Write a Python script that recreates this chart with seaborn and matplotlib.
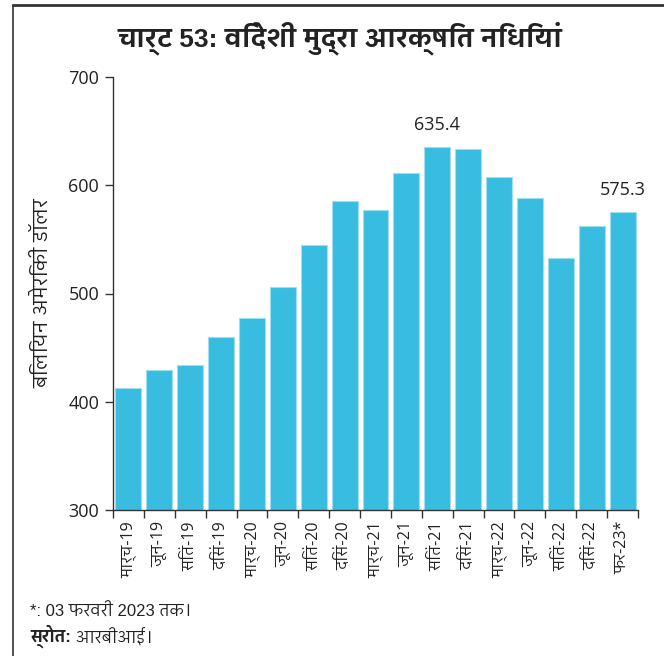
import numpy as np
import pandas as pd
import matplotlib
matplotlib.use("Agg")
import matplotlib.pyplot as plt
from matplotlib import font_manager
from matplotlib.ft2font import FT2Font
from matplotlib.lines import Line2D
import seaborn as sns

months = ["मार्च-19", "जून-19", "सितं-19", "दिसं-19", "मार्च-20", "जून-20",
          "सितं-20", "दिसं-20", "मार्च-21", "जून-21", "सितं-21", "दिसं-21",
          "मार्च-22", "जून-22", "सितं-22", "दिसं-22", "फर-23*"]
reserves = [412.9, 429.6, 433.7, 459.9, 477.8, 505.6, 544.7, 585.3, 577.0,
            611.1, 635.4, 633.6, 607.3, 588.3, 532.7, 562.8, 575.3]
labelled = ["सितं-21", "फर-23*"]
yticks = [300, 400, 500, 600, 700]

title = "चार्ट 53: विदेशी मुद्रा आरक्षित निधियां"
ylabel = "बिलियन अमेरिकी डॉलर"
note = "*: 03 फरवरी 2023 तक।"
source_head = "स्रोत:"
source_body = " आरबीआई।"

sns.set_theme(style="ticks")


def find_devanagari_family():
    """Pick an installed family that covers Devanagari, preferring a
    proportional sans face over monospaced or serif ones."""
    best, best_score = None, -1
    for f in font_manager.fontManager.ttflist:
        try:
            cmap = FT2Font(f.fname).get_charmap()
        except Exception:
            continue
        if 0x0915 not in cmap or 0x093F not in cmap:
            continue
        name = f.name
        score = 0
        if "mono" not in name.lower():
            score += 4
        if "sans" in name.lower():
            score += 2
        if "devanagari" in name.lower() or "hindi" in name.lower():
            score += 1
        if score > best_score:
            best, best_score = name, score
    return best


deva = find_devanagari_family()
tail = ([deva] if deva else []) + ["DejaVu Sans"]
text_fam = ["Liberation Sans"] + tail
num_fam = ["Open Sans"] + tail
plt.rcParams["font.family"] = text_fam

fig = plt.figure(figsize=(6.64, 6.56), dpi=100)
ax = fig.add_axes([113 / 664, 1 - 510 / 656, 525 / 664, 433 / 656])

df = pd.DataFrame({"month": months, "reserves": reserves})
sns.barplot(data=df, x="month", y="reserves", color="#38BCE0", saturation=1,
            width=0.84, edgecolor="#9FDDF0", linewidth=0.8, ax=ax)

ax.set_ylim(300, 700)
ax.set_xlim(-0.5, len(months) - 0.5)
ax.set_yticks(yticks)
ax.set_yticklabels([str(v) for v in yticks], fontsize=13, color="#222222",
                   family=num_fam)
ax.set_xticks(range(len(months)))
ax.set_xticklabels(months, rotation=90, fontsize=11.5, color="#222222",
                   family=num_fam)
ax.set_xticks(np.arange(-0.5, len(months)), minor=True)
ax.tick_params(axis="x", which="major", length=0, pad=8)
ax.tick_params(axis="x", which="minor", length=6, width=1, color="#333333")
ax.tick_params(axis="y", length=6, width=1, color="#333333", pad=4)
ax.set_xlabel("")
ax.set_ylabel(ylabel, fontsize=14.5, color="#222222", labelpad=12)
for side in ("top", "right"):
    ax.spines[side].set_visible(False)
for side in ("left", "bottom"):
    ax.spines[side].set_color("#333333")
    ax.spines[side].set_linewidth(1)

for m in labelled:
    i = months.index(m)
    ax.text(i, reserves[i] + 12, f"{reserves[i]:.1f}", ha="center", va="bottom",
            fontsize=13, color="#222222", family=num_fam)

fig.text(340 / 664, 1 - 38 / 656, title, ha="center", va="center",
         fontsize=19, fontweight="bold", color="#222222")

fig.text(30 / 664, 1 - 611 / 656, note, ha="left", va="center",
         fontsize=12, color="#222222")
t = fig.text(30 / 664, 1 - 636 / 656, source_head, ha="left", va="center",
             fontsize=12, fontweight="bold", color="#222222")
fig.canvas.draw()
bb = t.get_window_extent()
fig.text(bb.x1 / fig.bbox.width, 1 - 636 / 656, source_body, ha="left",
         va="center", fontsize=12, color="#222222")

# page frame: top rule and left rule
fig.add_artist(Line2D([13 / 664, 1], [1 - 5 / 656, 1 - 5 / 656],
                      transform=fig.transFigure, color="#333333", lw=2))
fig.add_artist(Line2D([13 / 664, 13 / 664], [0, 1 - 5 / 656],
                      transform=fig.transFigure, color="#333333", lw=1.2))

fig.savefig("out.png", dpi=100)
